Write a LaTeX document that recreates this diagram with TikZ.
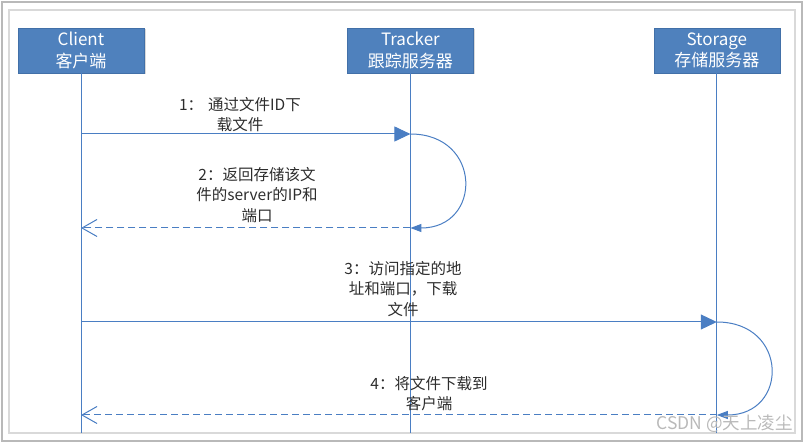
\documentclass[tikz,border=0pt]{standalone}
\usepackage{fontspec}
\setmainfont{Noto Sans CJK SC}
\usepackage{xcolor}
\usetikzlibrary{arrows.meta,positioning,shadows}

\definecolor{boxblue}{RGB}{79,129,189}
\definecolor{boxline}{RGB}{66,112,168}
\definecolor{lineblue}{RGB}{74,126,195}
\definecolor{labeltext}{RGB}{45,45,45}

\begin{document}
\begin{tikzpicture}[x=1pt, y=-1pt,
    actor/.style={draw=boxline, fill=boxblue, minimum width=126pt, minimum height=45pt, align=center, inner sep=2pt, text=white, font=\fontsize{17}{21.5}\selectfont, drop shadow={shadow xshift=1.5pt, shadow yshift=-1.5pt, opacity=0.3}},
    lifeline/.style={draw=lineblue, line width=1pt},
    call/.style={-{Triangle[length=16pt,width=15pt]}, draw=lineblue, line width=1pt},
    reply/.style={-{Straight Barb[length=15pt,width=17pt]}, draw=lineblue, line width=1pt, dash pattern=on 7pt off 4pt},
    selfloop/.style={-{Triangle[length=11pt,width=8pt]}, draw=lineblue, line width=1pt},
    msglabel/.style={align=center, text=labeltext, inner sep=0pt, font=\fontsize{15.5}{20.5}\selectfont}
]

\useasboundingbox (0,0) rectangle (807,443);
\draw[gray!55, line width=1.5pt] (2,2) rectangle (802,441);
\draw[gray!30, line width=1.2pt] (9,10) rectangle (795,433);

\node[actor] (client) at (81,50.5) {Client\\客户端};
\node[actor, right=203pt of client] (tracker) {Tracker\\跟踪服务器};
\node[actor, right=180pt of tracker] (storage) {Storage\\存储服务器};

\coordinate (bottom) at (0,433);
\coordinate (m1) at (0,134);
\coordinate (m2) at (0,228);
\coordinate (m3) at (0,322);
\coordinate (m4) at (0,415);

\draw[lifeline] (client.south) -- (client |- bottom);
\draw[lifeline] (tracker.south) -- (tracker |- bottom);
\draw[lifeline] (storage.south) -- (storage |- bottom);

\draw[call] (client |- m1) -- (tracker |- m1);
\draw[selfloop] (tracker |- m1) .. controls +(72,0) and +(72,0) .. (tracker |- m2);
\draw[reply] (tracker |- m2) -- (client |- m2);
\draw[call] (client |- m3) -- (storage |- m3);
\draw[selfloop] (storage |- m3) .. controls +(72,0) and +(72,0) .. (storage |- m4);
\draw[reply] (storage |- m4) -- (client |- m4);

\node[msglabel] (lab1) at (240,114.5) {1：\hspace{5pt}通过文件ID下\\载文件};
\node[msglabel] (lab2) at (257,195) {2：返回存储该文\\件的server的IP和\\端口};
\node[msglabel] (lab3) at (403,289) {3：访问指定的地\\址和端口，下载\\文件};
\node[msglabel] (lab4) at (429,393.5) {4：将文件下载到\\客户端};

\node[anchor=east, text=gray!55, inner sep=0pt, font=\fontsize{17.5}{17.5}\selectfont] (mark) at (793,424) {CSDN @天上凌尘};

\end{tikzpicture}
\end{document}
